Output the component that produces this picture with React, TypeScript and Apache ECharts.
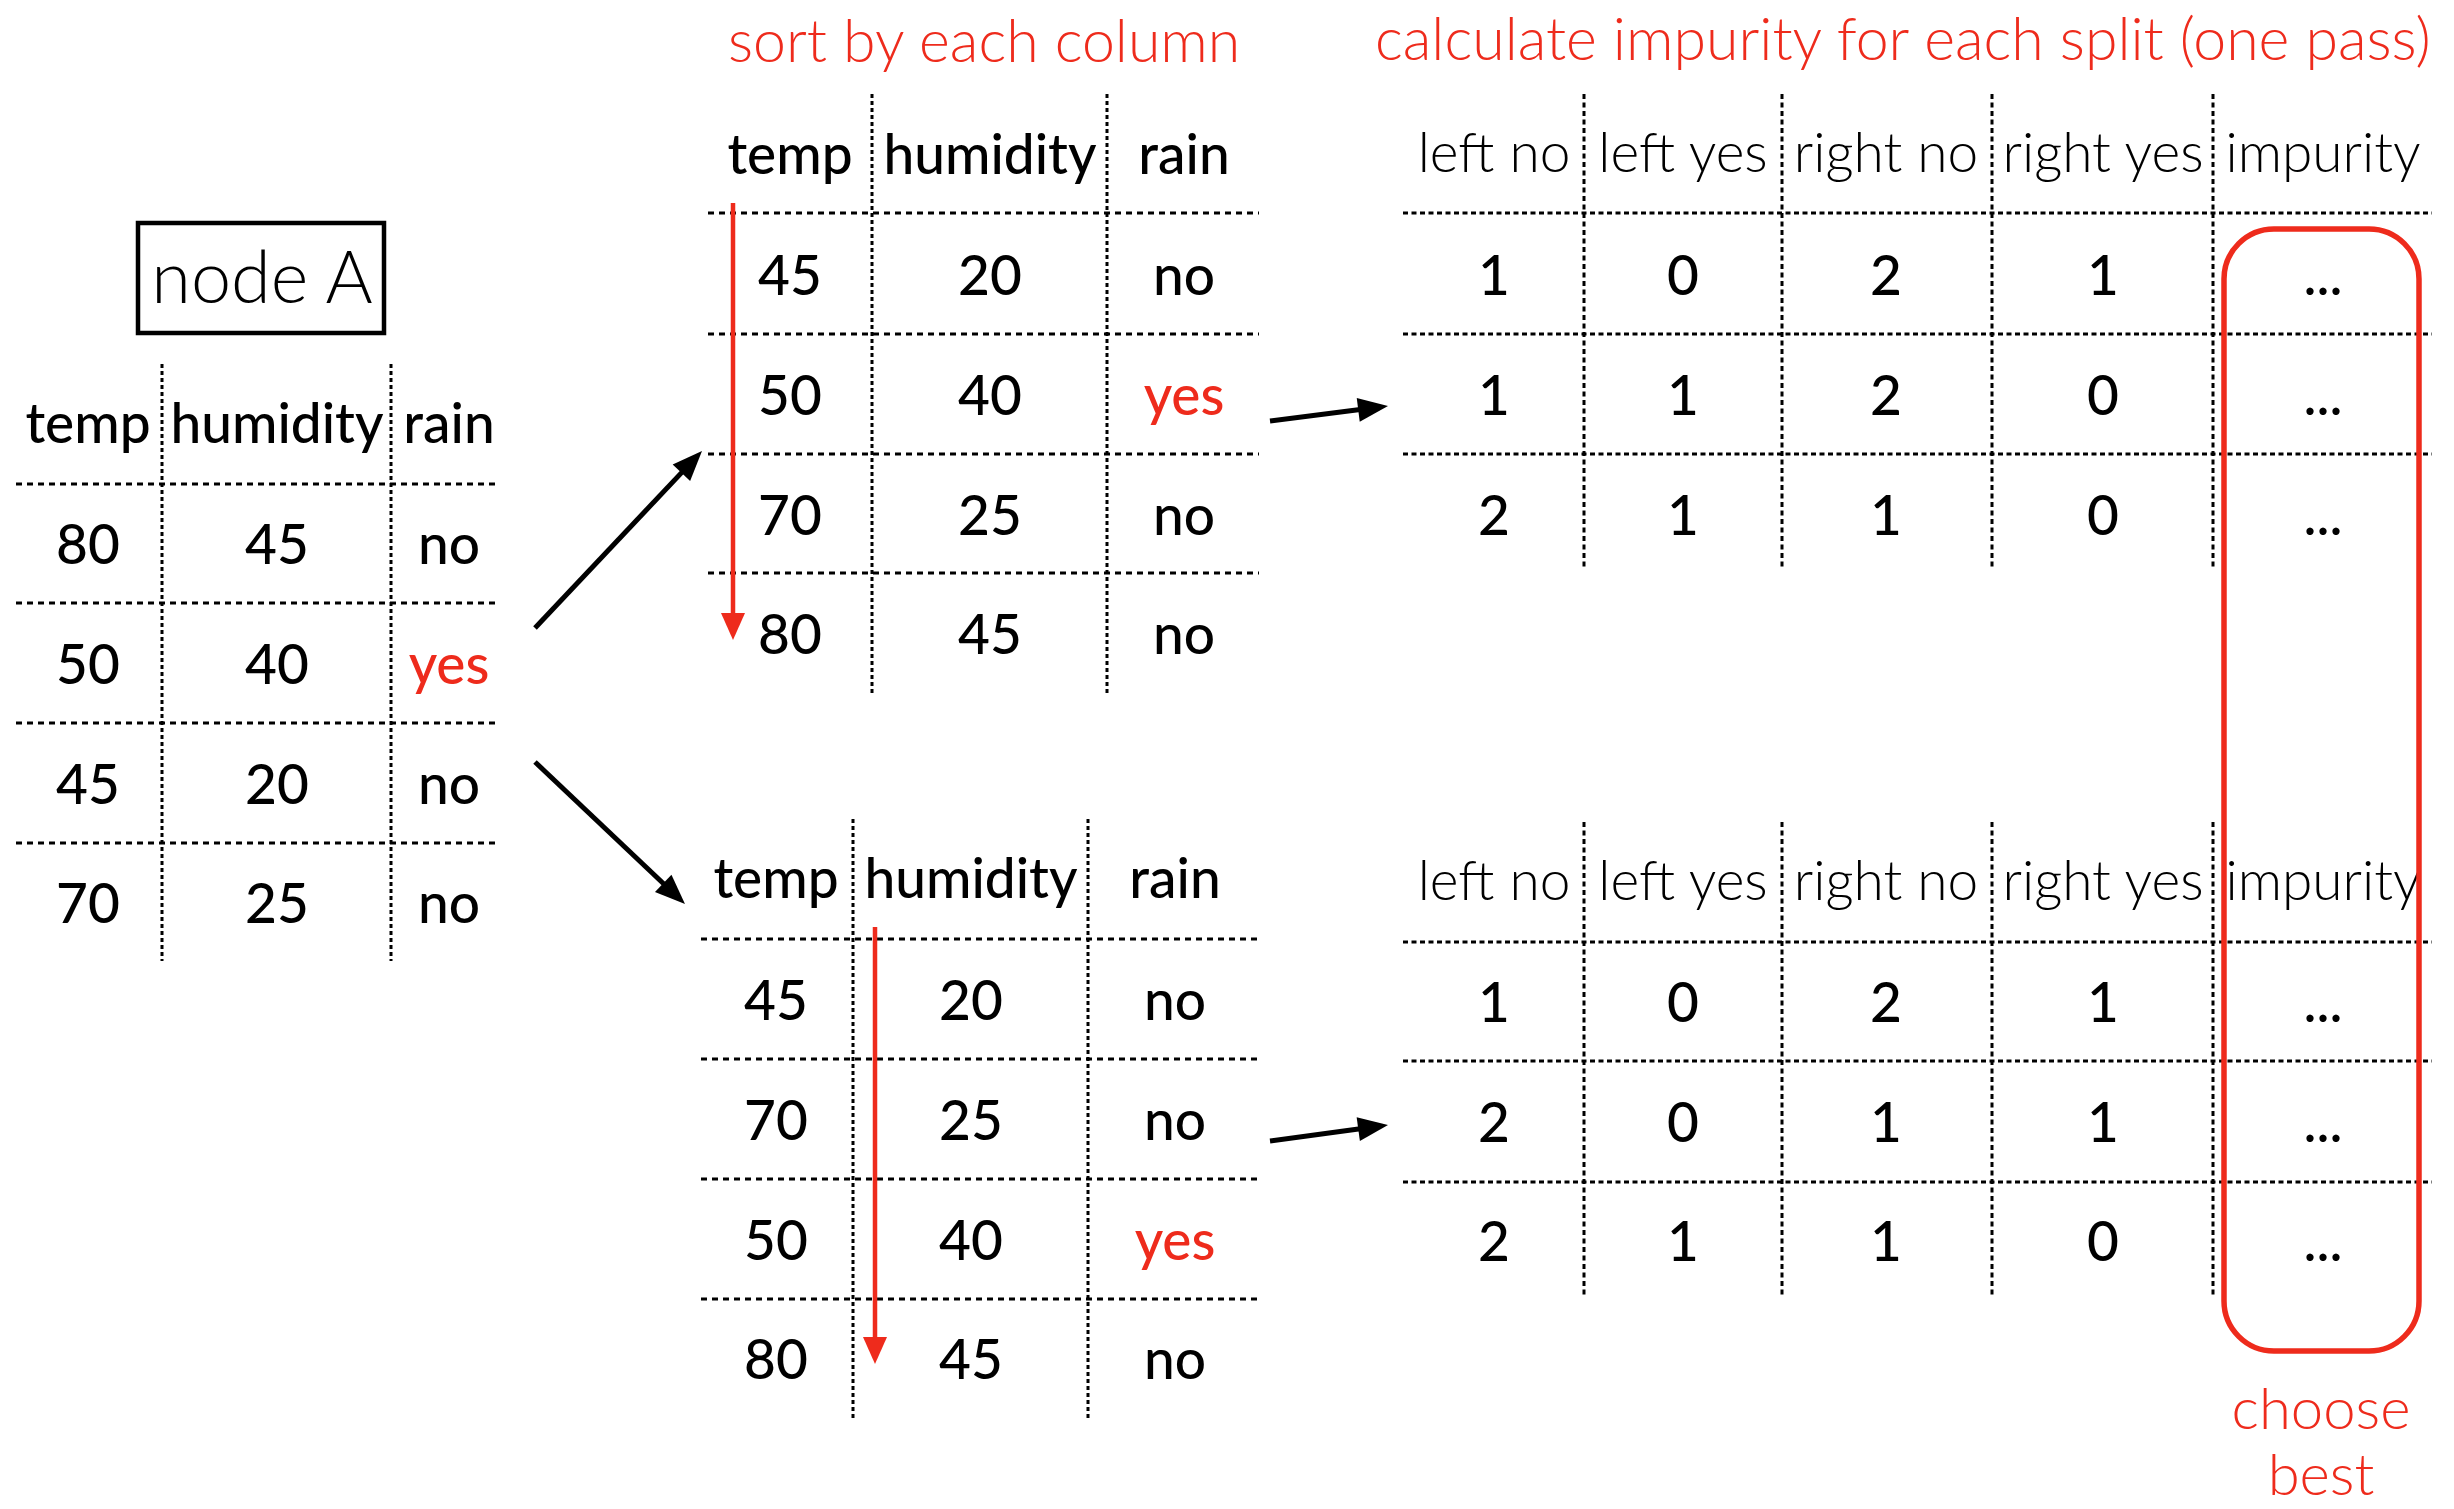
import React, { useEffect, useRef } from "react";
import * as echarts from "echarts";

// ---- data ----
const tableHeaders = ["temp", "humidity", "rain"];
const nodeTemp = ["80", "50", "45", "70"];
const nodeHumidity = ["45", "40", "20", "25"];
const nodeRain = ["no", "yes", "no", "no"];

const byTempTemp = ["45", "50", "70", "80"];
const byTempHumidity = ["20", "40", "25", "45"];
const byTempRain = ["no", "yes", "no", "no"];

const byHumTemp = ["45", "70", "50", "80"];
const byHumHumidity = ["20", "25", "40", "45"];
const byHumRain = ["no", "no", "yes", "no"];

const splitHeaders = ["left no", "left yes", "right no", "right yes", "impurity"];
const tempLeftNo = ["1", "1", "2"];
const tempLeftYes = ["0", "1", "1"];
const tempRightNo = ["2", "2", "1"];
const tempRightYes = ["1", "0", "0"];
const humLeftNo = ["1", "2", "2"];
const humLeftYes = ["0", "0", "1"];
const humRightNo = ["2", "1", "1"];
const humRightYes = ["1", "1", "0"];
const impurity = ["...", "...", "..."];

const nodeLabel = "node A";
const sortTitle = "sort by each column";
const splitTitle = "calculate impurity for each split (one pass)";
const chooseLabel = ["choose", "best"];

// ---- style ----
const RED = "#EE2B1C";
const FONT = "Lato, 'Open Sans', sans-serif";

function App() {
  const ref = useRef<HTMLDivElement>(null);

  useEffect(() => {
    document.body.style.margin = "0";
    const chart = echarts.init(ref.current!, null, { renderer: "svg" });
    const els: any[] = [];

    const txt = (x: number, y: number, text: string, o: any = {}) => {
      els.push({
        type: "text",
        x,
        y,
        silent: true,
        style: {
          text,
          fill: o.color || "#000",
          font: `${o.weight || 400} ${o.size || 55}px ${FONT}`,
          align: o.align || "center",
          verticalAlign: "middle",
        },
      });
    };
    const hline = (x1: number, x2: number, y: number, dash: number[]) =>
      els.push({
        type: "line",
        silent: true,
        shape: { x1, y1: y, x2, y2: y },
        style: { stroke: "#000", lineWidth: 3, lineDash: dash },
      });
    const vline = (x: number, y1: number, y2: number, dash: number[]) =>
      els.push({
        type: "line",
        silent: true,
        shape: { x1: x, y1, x2: x, y2 },
        style: { stroke: "#000", lineWidth: 3, lineDash: dash },
      });
    const arrow = (x1: number, y1: number, x2: number, y2: number, color: string, lw: number, L: number, W: number) => {
      const dx = x2 - x1, dy = y2 - y1;
      const len = Math.hypot(dx, dy);
      const ux = dx / len, uy = dy / len;
      const bx = x2 - ux * L, by = y2 - uy * L;
      els.push({
        type: "line",
        silent: true,
        shape: { x1, y1, x2: bx + ux * 2, y2: by + uy * 2 },
        style: { stroke: color, lineWidth: lw },
      });
      els.push({
        type: "polygon",
        silent: true,
        shape: {
          points: [
            [x2, y2],
            [bx - uy * W / 2, by + ux * W / 2],
            [bx + uy * W / 2, by - ux * W / 2],
          ],
        },
        style: { fill: color },
      });
    };

    const table3 = (
      colX: number[],
      vX: number[],
      hX: [number, number],
      vY: [number, number],
      hY: number[],
      headerY: number,
      rowY: number[],
      cols: string[][]
    ) => {
      vX.forEach((x) => vline(x, vY[0], vY[1], [4, 3]));
      hY.forEach((y) => hline(hX[0], hX[1], y, [6, 5]));
      tableHeaders.forEach((h, i) => txt(colX[i], headerY, h, { weight: 500 }));
      cols.forEach((col, ci) =>
        col.forEach((v, ri) =>
          txt(colX[ci], rowY[ri], v, {
            weight: 500,
            color: v === "yes" ? RED : "#000",
          })
        )
      );
    };

    // node A box
    els.push({
      type: "rect",
      silent: true,
      shape: { x: 138, y: 223, width: 246, height: 110 },
      style: { fill: "none", stroke: "#000", lineWidth: 4.5 },
    });
    txt(262, 275, nodeLabel, { size: 72, weight: 300 });

    // left table
    table3(
      [88, 277, 449],
      [162, 391],
      [16, 500],
      [364, 961],
      [484, 603, 723, 843],
      422,
      [543, 663, 783, 902],
      [nodeTemp, nodeHumidity, nodeRain]
    );

    // sorted by temp
    table3(
      [790, 990, 1184],
      [872, 1107],
      [708, 1259],
      [94, 693],
      [213, 334, 454, 573],
      153,
      [274, 394, 514, 633],
      [byTempTemp, byTempHumidity, byTempRain]
    );

    // sorted by humidity
    table3(
      [776, 971, 1175],
      [853, 1088],
      [701, 1261],
      [819, 1418],
      [939, 1059, 1179, 1299],
      877,
      [999, 1119, 1239, 1358],
      [byHumTemp, byHumHumidity, byHumRain]
    );

    // split tables
    const splitCols = [1494, 1683, 1886, 2103, 2323];
    const splitV = [1584, 1782, 1992, 2213];
    const splitTable = (vY: [number, number], hY: number[], headerY: number, rowY: number[], cols: string[][]) => {
      splitV.forEach((x) => vline(x, vY[0], vY[1], [5, 3.5]));
      hY.forEach((y) => hline(1403, 2432, y, [5, 3.5]));
      splitHeaders.forEach((h, i) => txt(splitCols[i], headerY, h, { weight: 300 }));
      cols.forEach((col, ci) =>
        col.forEach((v, ri) => txt(splitCols[ci], rowY[ri], v, { weight: 500 }))
      );
    };
    splitTable([94, 568], [213, 334, 454], 151, [274, 394, 514], [
      tempLeftNo, tempLeftYes, tempRightNo, tempRightYes, impurity,
    ]);
    splitTable([822, 1295], [942, 1061, 1182], 879, [1001, 1121, 1240], [
      humLeftNo, humLeftYes, humRightNo, humRightYes, impurity,
    ]);

    // choose-best box
    els.push({
      type: "rect",
      silent: true,
      shape: { x: 2224, y: 229, width: 195, height: 1122, r: 50 },
      style: { fill: "none", stroke: RED, lineWidth: 5.5 },
    });
    txt(2321, 1406, chooseLabel[0], { color: RED, weight: 300, size: 58 });
    txt(2321, 1472, chooseLabel[1], { color: RED, weight: 300, size: 58 });

    // titles
    txt(728, 39, sortTitle, { color: RED, weight: 300, size: 59, align: "left" });
    txt(1375, 37, splitTitle, { color: RED, weight: 300, size: 59, align: "left" });

    // arrows
    arrow(535, 628, 702, 451, "#000", 5, 30, 24);
    arrow(535, 762, 685, 904, "#000", 5, 30, 24);
    arrow(1270, 421, 1388, 406, "#000", 5, 30, 24);
    arrow(1270, 1141, 1388, 1125, "#000", 5, 30, 24);
    arrow(733, 203, 733, 640, RED, 4.5, 27, 24);
    arrow(875, 927, 875, 1364, RED, 4.5, 27, 24);

    chart.setOption({
      animation: false,
      backgroundColor: "#fff",
      graphic: { elements: els },
    });
    return () => chart.dispose();
  }, []);

  return (
    <div
      ref={ref}
      style={{ position: "absolute", left: 0, top: 0, width: 2454, height: 1509 }}
    />
  );
}

export default App;
